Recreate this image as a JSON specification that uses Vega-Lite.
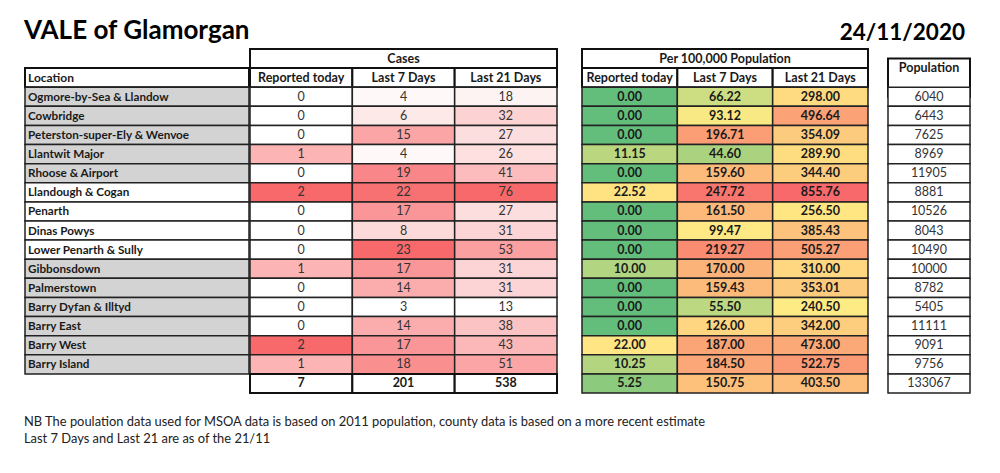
{
  "$schema": "https://vega.github.io/schema/vega-lite/v6.json",
  "background": "white",
  "padding": {"left": 24, "top": 18, "right": 10, "bottom": 10},
  "title": {"text": ["NB The poulation data used for MSOA data is based on 2011 population, county data is based on a more recent estimate", "Last 7 Days and Last 21 are as of the 21/11"], "orient": "bottom", "anchor": "start", "font": "Lato", "fontSize": 12.9, "fontWeight": "normal", "color": "#222", "lineHeight": 17, "offset": 22},
  "config": {"view": {"stroke": null}, "text": {"font": "Lato", "fontSize": 12.5, "color": "#1a1a1a"}, "title": {"font": "Lato"}, "axis": {"disable": true}},
  "datasets": {
    "table": [
      {"Row": "Ogmore-by-Sea & Llandow", "Area": "Western Vale", "Cases today": 0, "Cases 7 days": 4, "Cases 21 days": 18, "Rate today": 0, "Rate 7 days": 66.22, "Rate 21 days": 298.00, "Population": 6040},
      {"Row": "Cowbridge", "Area": "Western Vale", "Cases today": 0, "Cases 7 days": 6, "Cases 21 days": 32, "Rate today": 0, "Rate 7 days": 93.12, "Rate 21 days": 496.64, "Population": 6443},
      {"Row": "Peterston-super-Ely & Wenvoe", "Area": "Western Vale", "Cases today": 0, "Cases 7 days": 15, "Cases 21 days": 27, "Rate today": 0, "Rate 7 days": 196.71, "Rate 21 days": 354.09, "Population": 7625},
      {"Row": "Llantwit Major", "Area": "Western Vale", "Cases today": 1, "Cases 7 days": 4, "Cases 21 days": 26, "Rate today": 11.15, "Rate 7 days": 44.60, "Rate 21 days": 289.90, "Population": 8969},
      {"Row": "Rhoose & Airport", "Area": "Western Vale", "Cases today": 0, "Cases 7 days": 19, "Cases 21 days": 41, "Rate today": 0, "Rate 7 days": 159.60, "Rate 21 days": 344.40, "Population": 11905},
      {"Row": "Llandough & Cogan", "Area": "Penarth", "Cases today": 2, "Cases 7 days": 22, "Cases 21 days": 76, "Rate today": 22.52, "Rate 7 days": 247.72, "Rate 21 days": 855.76, "Population": 8881},
      {"Row": "Penarth", "Area": "Penarth", "Cases today": 0, "Cases 7 days": 17, "Cases 21 days": 27, "Rate today": 0, "Rate 7 days": 161.50, "Rate 21 days": 256.50, "Population": 10526},
      {"Row": "Dinas Powys", "Area": "Penarth", "Cases today": 0, "Cases 7 days": 8, "Cases 21 days": 31, "Rate today": 0, "Rate 7 days": 99.47, "Rate 21 days": 385.43, "Population": 8043},
      {"Row": "Lower Penarth & Sully", "Area": "Penarth", "Cases today": 0, "Cases 7 days": 23, "Cases 21 days": 53, "Rate today": 0, "Rate 7 days": 219.27, "Rate 21 days": 505.27, "Population": 10490},
      {"Row": "Gibbonsdown", "Area": "Barry", "Cases today": 1, "Cases 7 days": 17, "Cases 21 days": 31, "Rate today": 10.00, "Rate 7 days": 170.00, "Rate 21 days": 310.00, "Population": 10000},
      {"Row": "Palmerstown", "Area": "Barry", "Cases today": 0, "Cases 7 days": 14, "Cases 21 days": 31, "Rate today": 0, "Rate 7 days": 159.43, "Rate 21 days": 353.01, "Population": 8782},
      {"Row": "Barry Dyfan & Illtyd", "Area": "Barry", "Cases today": 0, "Cases 7 days": 3, "Cases 21 days": 13, "Rate today": 0, "Rate 7 days": 55.50, "Rate 21 days": 240.50, "Population": 5405},
      {"Row": "Barry East", "Area": "Barry", "Cases today": 0, "Cases 7 days": 14, "Cases 21 days": 38, "Rate today": 0, "Rate 7 days": 126.00, "Rate 21 days": 342.00, "Population": 11111},
      {"Row": "Barry West", "Area": "Barry", "Cases today": 2, "Cases 7 days": 17, "Cases 21 days": 43, "Rate today": 22.00, "Rate 7 days": 187.00, "Rate 21 days": 473.00, "Population": 9091},
      {"Row": "Barry Island", "Area": "Barry", "Cases today": 1, "Cases 7 days": 18, "Cases 21 days": 51, "Rate today": 10.25, "Rate 7 days": 184.50, "Rate 21 days": 522.75, "Population": 9756},
      {"Row": "Total", "Area": "Total", "Cases today": 7, "Cases 7 days": 201, "Cases 21 days": 538, "Rate today": 5.25, "Rate 7 days": 150.75, "Rate 21 days": 403.50, "Population": 133067}
    ],
    "headers": [
      {"Section": "Location", "Row": "_h", "Column": "Location", "Label": "Location"},
      {"Section": "Cases", "Row": "_g", "Column": "Cases", "Label": "Cases"},
      {"Section": "Cases", "Row": "_h", "Column": "Cases today", "Label": "Reported today"},
      {"Section": "Cases", "Row": "_h", "Column": "Cases 7 days", "Label": "Last 7 Days"},
      {"Section": "Cases", "Row": "_h", "Column": "Cases 21 days", "Label": "Last 21 Days"},
      {"Section": "Rate", "Row": "_g", "Column": "Rate", "Label": "Per 100,000 Population"},
      {"Section": "Rate", "Row": "_h", "Column": "Rate today", "Label": "Reported today"},
      {"Section": "Rate", "Row": "_h", "Column": "Rate 7 days", "Label": "Last 7 Days"},
      {"Section": "Rate", "Row": "_h", "Column": "Rate 21 days", "Label": "Last 21 Days"},
      {"Section": "Population", "Row": "_g", "Column": "Population", "Label": "Population"}
    ]
  },
  "resolve": {"scale": {"x": "independent", "y": "independent", "fill": "independent"}},
  "vconcat": [
    {
      "spacing": 18,
      "title": {"text": "24/11/2020", "anchor": "end", "fontSize": 22.5, "fontWeight": "bold", "color": "#000", "offset": -26, "dx": -6},
      "resolve": {"scale": {"x": "independent", "y": "independent", "fill": "independent"}},
      "hconcat": [
        {
          "spacing": 23,
          "resolve": {"scale": {"x": "independent", "y": "independent", "fill": "independent"}},
          "hconcat": [
            {
              "spacing": -2,
              "resolve": {"scale": {"x": "independent", "y": "independent", "fill": "independent"}},
              "hconcat": [
                {
                  "width": 224, "height": 344,
                  "title": {"text": "VALE of Glamorgan", "anchor": "start", "fontSize": 26, "fontWeight": "bold", "color": "#000", "offset": 5},
                  "encoding": {"y": {"field": "Row", "type": "nominal", "scale": {"type": "band", "domain": ["_g", "_h", "Ogmore-by-Sea & Llandow", "Cowbridge", "Peterston-super-Ely & Wenvoe", "Llantwit Major", "Rhoose & Airport", "Llandough & Cogan", "Penarth", "Dinas Powys", "Lower Penarth & Sully", "Gibbonsdown", "Palmerstown", "Barry Dyfan & Illtyd", "Barry East", "Barry West", "Barry Island", "Total"], "paddingInner": 0, "paddingOuter": 0}, "axis": null}},
                  "layer": [
                    {"data": {"name": "headers"}, "transform": [{"filter": "datum.Section === 'Location'"}], "mark": {"type": "rect", "fill": "white", "stroke": "#111", "strokeWidth": 2}, "encoding": {}},
                    {"data": {"name": "headers"}, "transform": [{"filter": "datum.Section === 'Location'"}], "mark": {"type": "text", "align": "left", "dx": 3, "fontWeight": "bold", "fontSize": 12}, "encoding": {"x": {"datum": "Location", "type": "nominal", "bandPosition": 0, "scale": {"type": "band", "paddingInner": 0, "paddingOuter": 0}, "axis": null}, "text": {"field": "Label"}}},
                    {"data": {"name": "table"}, "transform": [{"filter": "datum.Row !== 'Total'"}], "mark": {"type": "rect", "stroke": "#222", "strokeWidth": 1.5}, "encoding": {"fill": {"field": "Area", "type": "nominal", "scale": {"domain": ["Western Vale", "Penarth", "Barry"], "range": ["#D3D3D3", "#FFFFFF", "#D3D3D3"]}, "legend": null}}},
                    {"data": {"name": "table"}, "transform": [{"filter": "datum.Row !== 'Total'"}], "mark": {"type": "text", "align": "left", "dx": 3, "fontWeight": "bold", "fontSize": 11.7}, "encoding": {"x": {"datum": "Location", "type": "nominal", "bandPosition": 0, "scale": {"type": "band", "paddingInner": 0, "paddingOuter": 0}, "axis": null}, "text": {"field": "Row"}}}
                  ]
                },
                {
                  "width": 307, "height": 344,
                  "encoding": {"y": {"field": "Row", "type": "nominal", "scale": {"type": "band", "domain": ["_g", "_h", "Ogmore-by-Sea & Llandow", "Cowbridge", "Peterston-super-Ely & Wenvoe", "Llantwit Major", "Rhoose & Airport", "Llandough & Cogan", "Penarth", "Dinas Powys", "Lower Penarth & Sully", "Gibbonsdown", "Palmerstown", "Barry Dyfan & Illtyd", "Barry East", "Barry West", "Barry Island", "Total"], "paddingInner": 0, "paddingOuter": 0}, "axis": null}},
                  "resolve": {"scale": {"fill": "independent"}},
                  "layer": [
                    {"data": {"name": "headers"}, "transform": [{"filter": "datum.Section === 'Cases' && datum.Row === '_g'"}], "mark": {"type": "rect", "fill": "white", "stroke": "#111", "strokeWidth": 2}, "encoding": {}},
                    {"data": {"name": "headers"}, "transform": [{"filter": "datum.Section === 'Cases' && datum.Row === '_g'"}], "mark": {"type": "text", "fontWeight": "bold"}, "encoding": {"text": {"field": "Label"}}},
                    {"data": {"name": "headers"}, "transform": [{"filter": "datum.Section === 'Cases' && datum.Row === '_h'"}], "mark": {"type": "rect", "fill": "white", "stroke": "#111", "strokeWidth": 2}, "encoding": {"x": {"field": "Column", "type": "nominal", "scale": {"type": "band", "domain": ["Cases today", "Cases 7 days", "Cases 21 days"], "paddingInner": 0, "paddingOuter": 0}, "axis": null}}},
                    {"data": {"name": "headers"}, "transform": [{"filter": "datum.Section === 'Cases' && datum.Row === '_h'"}], "mark": {"type": "text", "fontWeight": "bold"}, "encoding": {"x": {"field": "Column", "type": "nominal", "scale": {"type": "band", "domain": ["Cases today", "Cases 7 days", "Cases 21 days"], "paddingInner": 0, "paddingOuter": 0}, "axis": null}, "text": {"field": "Label"}}},
                    {"data": {"name": "table"}, "transform": [{"filter": "datum.Row !== 'Total'"}], "mark": {"type": "rect", "stroke": "#222", "strokeWidth": 1.5}, "encoding": {"x": {"datum": "Cases today", "type": "nominal", "scale": {"type": "band", "domain": ["Cases today", "Cases 7 days", "Cases 21 days"], "paddingInner": 0, "paddingOuter": 0}, "axis": null}, "fill": {"field": "Cases today", "type": "quantitative", "scale": {"range": ["#FFFFFF", "#F8696B"], "interpolate": "rgb", "zero": false}, "legend": null}}},
                    {"data": {"name": "table"}, "transform": [{"filter": "datum.Row !== 'Total'"}], "mark": {"type": "rect", "stroke": "#222", "strokeWidth": 1.5}, "encoding": {"x": {"datum": "Cases 7 days", "type": "nominal", "scale": {"type": "band", "domain": ["Cases today", "Cases 7 days", "Cases 21 days"], "paddingInner": 0, "paddingOuter": 0}, "axis": null}, "fill": {"field": "Cases 7 days", "type": "quantitative", "scale": {"range": ["#FFFFFF", "#F8696B"], "interpolate": "rgb", "zero": false}, "legend": null}}},
                    {"data": {"name": "table"}, "transform": [{"filter": "datum.Row !== 'Total'"}], "mark": {"type": "rect", "stroke": "#222", "strokeWidth": 1.5}, "encoding": {"x": {"datum": "Cases 21 days", "type": "nominal", "scale": {"type": "band", "domain": ["Cases today", "Cases 7 days", "Cases 21 days"], "paddingInner": 0, "paddingOuter": 0}, "axis": null}, "fill": {"field": "Cases 21 days", "type": "quantitative", "scale": {"range": ["#FFFFFF", "#F8696B"], "interpolate": "rgb", "zero": false}, "legend": null}}},
                    {"data": {"name": "table"}, "transform": [{"filter": "datum.Row === 'Total'"}, {"fold": ["Cases today", "Cases 7 days", "Cases 21 days"], "as": ["Column", "Value"]}], "mark": {"type": "rect", "fill": "white", "stroke": "#111", "strokeWidth": 2}, "encoding": {"x": {"field": "Column", "type": "nominal", "scale": {"type": "band", "domain": ["Cases today", "Cases 7 days", "Cases 21 days"], "paddingInner": 0, "paddingOuter": 0}, "axis": null}}},
                    {"data": {"name": "table"}, "transform": [{"filter": "datum.Row !== 'Total'"}, {"fold": ["Cases today", "Cases 7 days", "Cases 21 days"], "as": ["Column", "Value"]}], "mark": {"type": "text", "color": "#333"}, "encoding": {"x": {"field": "Column", "type": "nominal", "scale": {"type": "band", "domain": ["Cases today", "Cases 7 days", "Cases 21 days"], "paddingInner": 0, "paddingOuter": 0}, "axis": null}, "text": {"field": "Value"}}},
                    {"data": {"name": "table"}, "transform": [{"filter": "datum.Row === 'Total'"}, {"fold": ["Cases today", "Cases 7 days", "Cases 21 days"], "as": ["Column", "Value"]}], "mark": {"type": "text", "fontWeight": "bold"}, "encoding": {"x": {"field": "Column", "type": "nominal", "scale": {"type": "band", "domain": ["Cases today", "Cases 7 days", "Cases 21 days"], "paddingInner": 0, "paddingOuter": 0}, "axis": null}, "text": {"field": "Value"}}}
                  ]
                }
              ]
            },
            {
              "width": 286, "height": 344,
              "encoding": {"y": {"field": "Row", "type": "nominal", "scale": {"type": "band", "domain": ["_g", "_h", "Ogmore-by-Sea & Llandow", "Cowbridge", "Peterston-super-Ely & Wenvoe", "Llantwit Major", "Rhoose & Airport", "Llandough & Cogan", "Penarth", "Dinas Powys", "Lower Penarth & Sully", "Gibbonsdown", "Palmerstown", "Barry Dyfan & Illtyd", "Barry East", "Barry West", "Barry Island", "Total"], "paddingInner": 0, "paddingOuter": 0}, "axis": null}},
              "resolve": {"scale": {"fill": "independent"}},
              "layer": [
                {"data": {"name": "headers"}, "transform": [{"filter": "datum.Section === 'Rate' && datum.Row === '_g'"}], "mark": {"type": "rect", "fill": "white", "stroke": "#111", "strokeWidth": 2}, "encoding": {}},
                {"data": {"name": "headers"}, "transform": [{"filter": "datum.Section === 'Rate' && datum.Row === '_g'"}], "mark": {"type": "text", "fontWeight": "bold"}, "encoding": {"text": {"field": "Label"}}},
                {"data": {"name": "headers"}, "transform": [{"filter": "datum.Section === 'Rate' && datum.Row === '_h'"}], "mark": {"type": "rect", "fill": "white", "stroke": "#111", "strokeWidth": 2}, "encoding": {"x": {"field": "Column", "type": "nominal", "scale": {"type": "band", "domain": ["Rate today", "Rate 7 days", "Rate 21 days"], "paddingInner": 0, "paddingOuter": 0}, "axis": null}}},
                {"data": {"name": "headers"}, "transform": [{"filter": "datum.Section === 'Rate' && datum.Row === '_h'"}], "mark": {"type": "text", "fontWeight": "bold"}, "encoding": {"x": {"field": "Column", "type": "nominal", "scale": {"type": "band", "domain": ["Rate today", "Rate 7 days", "Rate 21 days"], "paddingInner": 0, "paddingOuter": 0}, "axis": null}, "text": {"field": "Label"}}},
                {"data": {"name": "table"}, "mark": {"type": "rect", "stroke": "#222", "strokeWidth": 1.5}, "encoding": {"x": {"datum": "Rate today", "type": "nominal", "scale": {"type": "band", "domain": ["Rate today", "Rate 7 days", "Rate 21 days"], "paddingInner": 0, "paddingOuter": 0}, "axis": null}, "fill": {"field": "Rate today", "type": "quantitative", "scale": {"domain": [0, 20, 60], "range": ["#63BE7B", "#FFEB84", "#F8696B"], "interpolate": "rgb", "clamp": true}, "legend": null}}},
                {"data": {"name": "table"}, "mark": {"type": "rect", "stroke": "#222", "strokeWidth": 1.5}, "encoding": {"x": {"datum": "Rate 7 days", "type": "nominal", "scale": {"type": "band", "domain": ["Rate today", "Rate 7 days", "Rate 21 days"], "paddingInner": 0, "paddingOuter": 0}, "axis": null}, "fill": {"field": "Rate 7 days", "type": "quantitative", "scale": {"domain": [0, 97, 265], "range": ["#63BE7B", "#FFEB84", "#F8696B"], "interpolate": "rgb", "clamp": true}, "legend": null}}},
                {"data": {"name": "table"}, "mark": {"type": "rect", "stroke": "#222", "strokeWidth": 1.5}, "encoding": {"x": {"datum": "Rate 21 days", "type": "nominal", "scale": {"type": "band", "domain": ["Rate today", "Rate 7 days", "Rate 21 days"], "paddingInner": 0, "paddingOuter": 0}, "axis": null}, "fill": {"field": "Rate 21 days", "type": "quantitative", "scale": {"domain": [0, 240, 700], "range": ["#63BE7B", "#FFEB84", "#F8696B"], "interpolate": "rgb", "clamp": true}, "legend": null}}},
                {"data": {"name": "table"}, "transform": [{"fold": ["Rate today", "Rate 7 days", "Rate 21 days"], "as": ["Column", "Value"]}], "mark": {"type": "text", "fontWeight": "bold"}, "encoding": {"x": {"field": "Column", "type": "nominal", "scale": {"type": "band", "domain": ["Rate today", "Rate 7 days", "Rate 21 days"], "paddingInner": 0, "paddingOuter": 0}, "axis": null}, "text": {"field": "Value", "type": "quantitative", "format": ".2f"}}}
              ]
            }
          ]
        },
        {
          "width": 82, "height": 344,
          "encoding": {"y": {"field": "Row", "type": "nominal", "scale": {"type": "band", "domain": ["_g", "_h", "Ogmore-by-Sea & Llandow", "Cowbridge", "Peterston-super-Ely & Wenvoe", "Llantwit Major", "Rhoose & Airport", "Llandough & Cogan", "Penarth", "Dinas Powys", "Lower Penarth & Sully", "Gibbonsdown", "Palmerstown", "Barry Dyfan & Illtyd", "Barry East", "Barry West", "Barry Island", "Total"], "paddingInner": 0, "paddingOuter": 0}, "axis": null}},
          "layer": [
            {"data": {"name": "headers"}, "transform": [{"filter": "datum.Section === 'Population'"}], "mark": {"type": "rect", "fill": "white", "stroke": "#111", "strokeWidth": 2, "height": {"band": 2}}, "encoding": {"y": {"datum": "_h", "type": "nominal", "bandPosition": 0}}},
            {"data": {"name": "headers"}, "transform": [{"filter": "datum.Section === 'Population'"}], "mark": {"type": "text", "fontWeight": "bold"}, "encoding": {"y": {"datum": "_h", "type": "nominal", "bandPosition": 0}, "text": {"field": "Label"}}},
            {"data": {"name": "table"}, "mark": {"type": "rect", "fill": "white", "stroke": "#222", "strokeWidth": 1.5}, "encoding": {}},
            {"data": {"name": "table"}, "mark": {"type": "text", "color": "#333"}, "encoding": {"text": {"field": "Population"}}}
          ]
        }
      ]
    }
  ]
}
